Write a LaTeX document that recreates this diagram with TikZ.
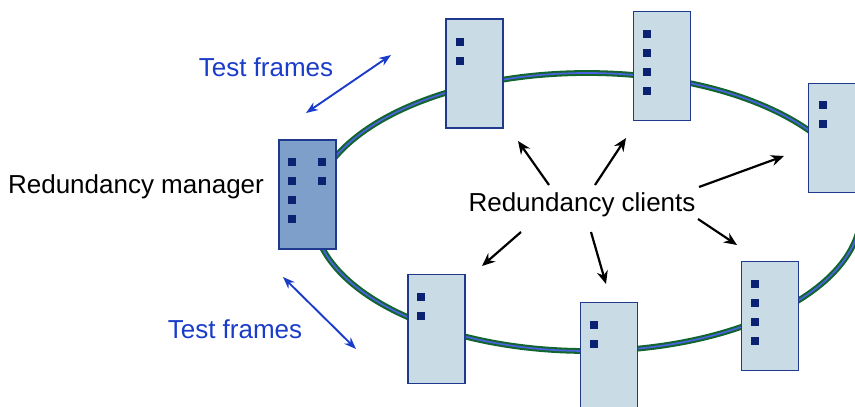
\documentclass[tikz,border=0pt]{standalone}
\usepackage{fontspec}
\setmainfont{Liberation Sans}
\usetikzlibrary{arrows.meta}
\definecolor{ringgreen}{HTML}{12652F}
\definecolor{ringblue}{HTML}{4A62E0}
\definecolor{boxfill}{HTML}{C9DCE5}
\definecolor{mgrfill}{HTML}{7F9FCB}
\definecolor{boxedge}{HTML}{1F3A8C}
\definecolor{dotcol}{HTML}{0B2272}
\definecolor{tfblue}{HTML}{1A3CC8}
\tikzset{
  station/.style={draw=boxedge, line width=1.6pt, fill=boxfill, minimum width=57pt, minimum height=109pt, inner sep=0pt},
  manager/.style={station, fill=mgrfill},
  dot/.style={fill=dotcol, draw=none, minimum size=8pt, inner sep=0pt},
  lbl/.style={font=\fontsize{26}{30}\selectfont, inner sep=0pt},
  tflbl/.style={lbl, text=tfblue},
  clientarrow/.style={draw=black, line width=2.2pt, -{Stealth[length=13pt,width=11pt]}},
  tfarrow/.style={draw=tfblue, line width=1.9pt, {Stealth[length=12pt,width=9pt]}-{Stealth[length=12pt,width=9pt]}}
}
\begin{document}
\begin{tikzpicture}[x=1pt,y=-1pt]
\useasboundingbox (0,0) rectangle (855,407);
\clip (0,0) rectangle (855,407);
% ring
\draw[ringgreen, line width=5.8pt] (587,212) ellipse [x radius=274pt, y radius=139pt];
\draw[ringblue, line width=1.7pt] (587,212) ellipse [x radius=274pt, y radius=139pt];
% stations
\node[manager] (mgr) at (307.5,194.5) {};
\node[station] (sA) at (474.5,73.5) {};
\node[station] (sB) at (662,66) {};
\node[station] (sC) at (837,138) {};
\node[station] (sD) at (436.5,329) {};
\node[station] (sE) at (609,357) {};
\node[station] (sF) at (770,316) {};
% dots
\foreach \yy [count=\i] in {162,181,200,219} \node[dot] (mgrL\i) at (291.5,\yy) {};
\foreach \yy [count=\i] in {162,181} \node[dot] (mgrR\i) at (321.5,\yy) {};
\foreach \yy [count=\i] in {41.5,61} \node[dot] (dA\i) at (459.5,\yy) {};
\foreach \yy [count=\i] in {34,53,72,91} \node[dot] (dB\i) at (646.5,\yy) {};
\foreach \yy [count=\i] in {105,124} \node[dot] (dC\i) at (822.5,\yy) {};
\foreach \yy [count=\i] in {296.5,315.5} \node[dot] (dD\i) at (421,\yy) {};
\foreach \yy [count=\i] in {325,344} \node[dot] (dE\i) at (594,\yy) {};
\foreach \yy [count=\i] in {284,303,322,341} \node[dot] (dF\i) at (754.5,\yy) {};
% labels
\node[lbl] (rm) at (136,187) {Redundancy manager};
\node[lbl] (rc) at (582,205) {Redundancy clients};
\node[tflbl] (tf1) at (266,67) {Test frames};
\node[tflbl] (tf2) at (235,329) {Test frames};
% client arrows
\coordinate (c1s) at (549,185); \coordinate (c1e) at (518,141);
\coordinate (c2s) at (595,185); \coordinate (c2e) at (626,138);
\coordinate (c3s) at (699,187); \coordinate (c3e) at (784,156);
\coordinate (c4s) at (698,219); \coordinate (c4e) at (737,245);
\coordinate (c5s) at (591,232); \coordinate (c5e) at (606,284);
\coordinate (c6s) at (521,232); \coordinate (c6e) at (482,266);
\draw[clientarrow] (c1s) -- (c1e);
\draw[clientarrow] (c2s) -- (c2e);
\draw[clientarrow] (c3s) -- (c3e);
\draw[clientarrow] (c4s) -- (c4e);
\draw[clientarrow] (c5s) -- (c5e);
\draw[clientarrow] (c6s) -- (c6e);
% test frame arrows
\coordinate (t1a) at (306,113); \coordinate (t1b) at (391,55);
\coordinate (t2a) at (283,277); \coordinate (t2b) at (356,349);
\draw[tfarrow] (t1a) -- (t1b);
\draw[tfarrow] (t2a) -- (t2b);
\end{tikzpicture}
\end{document}
